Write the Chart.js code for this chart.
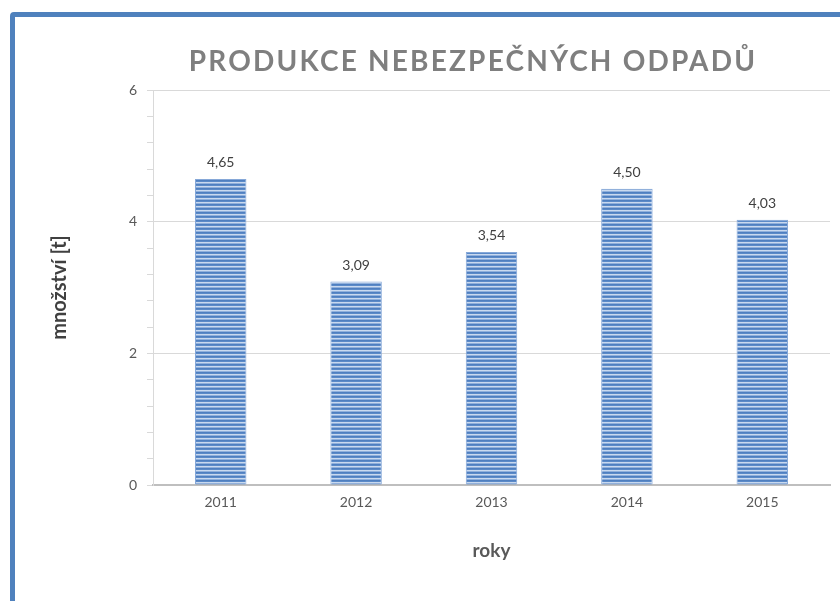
<!DOCTYPE html>
<html lang="cs">
<head>
<meta charset="utf-8">
<title>Produkce nebezpečných odpadů</title>
<script src="https://cdn.jsdelivr.net/npm/chart.js@4.4.1/dist/chart.umd.min.js"></script>
<style>
  html, body { margin: 0; padding: 0; background: #fff; overflow: hidden; }
  #wrap { position: relative; width: 840px; height: 601px; }
  #frame {
    position: absolute; left: 10px; top: 12px; width: 900px; height: 700px;
    border: 5px solid #4f81bd; border-radius: 4px; box-sizing: border-box; pointer-events: none;
  }
  canvas { position: absolute; left: 0; top: 0; }
</style>
</head>
<body>
<div id="wrap">
  <canvas id="odpadyChart" width="840" height="601"></canvas>
  <div id="frame"></div>
</div>
<script>
// Data
const roky = ['2011', '2012', '2013', '2014', '2015'];
const mnozstvi = [4.65, 3.09, 3.54, 4.50, 4.03];
const yMin = 0;
const yMax = 6;
const yHlavniKrok = 2;    // popisky a mřížka
const yVedlejsiKrok = 0.4; // drobné značky na ose

const titulek = 'PRODUKCE NEBEZPEČNÝCH ODPADŮ';
const popisekY = 'množství [t]';
const popisekX = 'roky';

const FONT = 'Lato';

// vodorovne prouzky jako v Excelu
function prouzky() {
  const c = document.createElement('canvas');
  c.width = 1;
  c.height = 4;
  const g = c.getContext('2d');
  const barvy = ['#4f7fc0', '#5b8ac8', '#c9d9ef', '#90b0dc'];
  barvy.forEach((b, i) => { g.fillStyle = b; g.fillRect(0, i, 1, 1); });
  return document.getElementById('odpadyChart').getContext('2d').createPattern(c, 'repeat');
}

const jeHlavni = v => Math.abs(v / yHlavniKrok - Math.round(v / yHlavniKrok)) < 1e-6;

// titulek s prostrkanymi pismeny
const titulekPlugin = {
  id: 'titulek',
  afterDraw(chart) {
    const ctx = chart.ctx;
    ctx.save();
    ctx.font = `bold 28px ${FONT}`;
    ctx.letterSpacing = '2.2px';
    ctx.fillStyle = '#7f7f7f';
    ctx.textAlign = 'center';
    ctx.textBaseline = 'middle';
    ctx.fillText(titulek, 473, 62);
    ctx.restore();
  }
};

// hodnoty nad sloupci
const hodnotyPlugin = {
  id: 'hodnoty',
  afterDatasetsDraw(chart) {
    const ctx = chart.ctx;
    const meta = chart.getDatasetMeta(0);
    ctx.save();
    ctx.font = `14px ${FONT}`;
    ctx.fillStyle = '#404040';
    ctx.textAlign = 'center';
    ctx.textBaseline = 'middle';
    meta.data.forEach((bar, i) => {
      ctx.fillText(mnozstvi[i].toFixed(2).replace('.', ','), bar.x, bar.y - 16);
    });
    ctx.restore();
  }
};

new Chart(document.getElementById('odpadyChart'), {
  type: 'bar',
  data: {
    labels: roky,
    datasets: [{
      label: 'množství',
      data: mnozstvi,
      backgroundColor: prouzky(),
      borderColor: '#86a8d8',
      borderWidth: 1,
      barPercentage: 0.38,
      categoryPercentage: 1
    }]
  },
  options: {
    responsive: false,
    animation: false,
    layout: { padding: { top: 90, right: 10, bottom: 0, left: 0 } },
    plugins: {
      legend: { display: false },
      tooltip: { enabled: false },
      title: { display: false }
    },
    scales: {
      x: {
        grid: { display: false, drawTicks: false },
        border: { display: true, color: '#bfbfbf', width: 2 },
        ticks: { color: '#595959', font: { family: FONT, size: 14 }, padding: 9 },
        title: {
          display: true,
          text: popisekX,
          color: '#595959',
          font: { family: FONT, size: 19, weight: 'bold' },
          padding: { top: 0, bottom: 39 }
        },
        afterFit(scale) { scale.height = 116; }
      },
      y: {
        min: yMin,
        max: yMax,
        grid: {
          color: c => jeHlavni(c.tick.value) ? '#d9d9d9' : 'rgba(0,0,0,0)',
          tickColor: '#d9d9d9',
          tickLength: 6
        },
        border: { display: true, color: '#d9d9d9', width: 1 },
        ticks: {
          stepSize: yVedlejsiKrok,
          maxTicksLimit: 20,
          autoSkip: false,
          color: '#595959',
          font: { family: FONT, size: 14 },
          padding: 10,
          callback: v => jeHlavni(v) ? String(Math.round(v)) : ''
        },
        title: {
          display: true,
          text: popisekY,
          color: '#404040',
          font: { family: FONT, size: 20, weight: 'bold' },
          padding: { top: 48, bottom: 0 }
        },
        afterFit(scale) { scale.width = 153; }
      }
    }
  },
  plugins: [hodnotyPlugin, titulekPlugin]
});
</script>
</body>
</html>
